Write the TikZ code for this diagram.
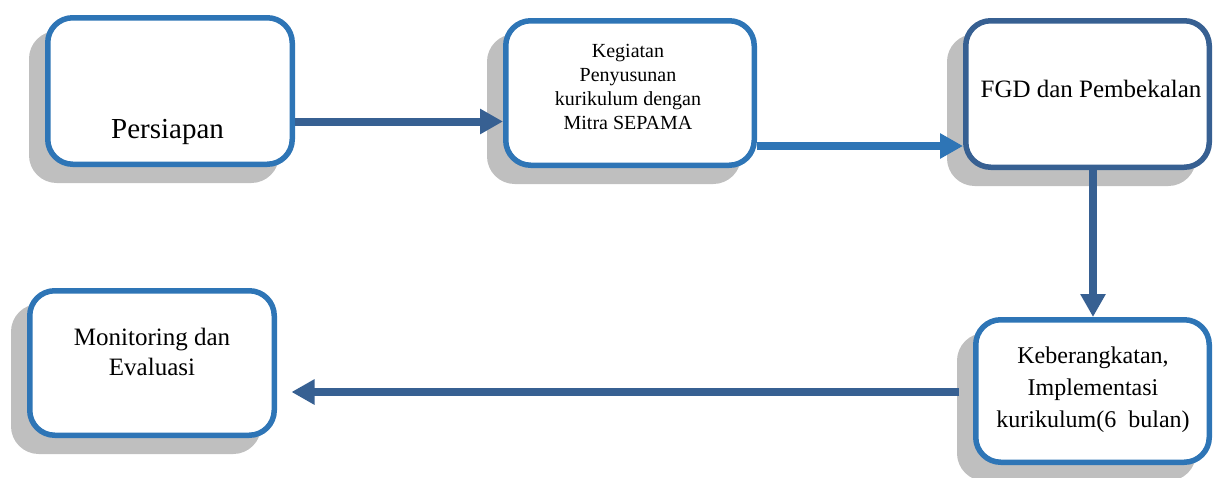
\documentclass[tikz,border=0pt]{standalone}
\usepackage{fontspec}
\setmainfont{Liberation Serif}
\usetikzlibrary{shadows,arrows.meta}
\definecolor{boxblue}{RGB}{46,117,182}
\definecolor{boxdark}{RGB}{55,96,146}
\definecolor{arrdark}{RGB}{55,96,146}
\definecolor{shadowgray}{RGB}{191,191,191}
\tikzset{
  stepbox/.style={draw=boxblue, line width=5.5pt, rounded corners=25pt, fill=white,
    inner sep=0pt,
    drop shadow={shadow xshift=-16pt, shadow yshift=-16pt, opacity=1, fill=shadowgray, draw=shadowgray, line width=5.5pt}},
  flowarrow/.style={draw=arrdark, line width=8pt, -{Triangle[length=23pt,width=24pt]}},
  lbl/.style={inner sep=0pt, anchor=base, align=center, text=black},
}
\begin{document}
\begin{tikzpicture}[x=1pt,y=-1pt]
\useasboundingbox (0,0) rectangle (1213,477);
% boxes
\node[stepbox, minimum width=244.5pt, minimum height=146.5pt] (b1) at (170,91) {};
\node[stepbox, minimum width=248.5pt, minimum height=144.5pt] (b2) at (630,93) {};
\node[stepbox, draw=boxdark, minimum width=243.5pt, minimum height=146.5pt] (b3) at (1087.5,94) {};
\node[stepbox, minimum width=244.5pt, minimum height=144.5pt] (b4) at (152,363) {};
\node[stepbox, minimum width=233.5pt, minimum height=142.5pt] (b5) at (1092.5,391) {};
% texts (base anchor = baseline of the last line)
\node[lbl, font=\fontsize{29}{34}\selectfont] (t1) at (167.5,138) {Persiapan};
\node[lbl, font=\fontsize{20}{23.7}\selectfont] (t2) at (628,129) {Kegiatan\\Penyusunan\\kurikulum dengan\\Mitra SEPAMA};
\node[lbl, font=\fontsize{25}{30}\selectfont] (t3) at (1091,97) {FGD dan Pembekalan};
\node[lbl, font=\fontsize{25}{30}\selectfont] (t4) at (152,375) {Monitoring dan\\Evaluasi};
\node[lbl, font=\fontsize{24}{32}\selectfont] (t5) at (1093,427) {Keberangkatan,\\Implementasi\\kurikulum(6~ bulan)};
% arrows
\draw[flowarrow] ([yshift=-30.5pt]b1.east) -- ([yshift=-28.5pt]b2.west);
\draw[flowarrow, draw=boxblue] ([yshift=-53pt]b2.east) -- ([yshift=-52pt]b3.west);
\draw[flowarrow] ([xshift=5.5pt]b3.south) -- ([xshift=0.5pt]b5.north);
\draw[flowarrow, shorten <=14pt, shorten >=14.5pt] ([yshift=-1pt]b5.west) -- ([yshift=-29pt]b4.east);
\end{tikzpicture}
\end{document}
